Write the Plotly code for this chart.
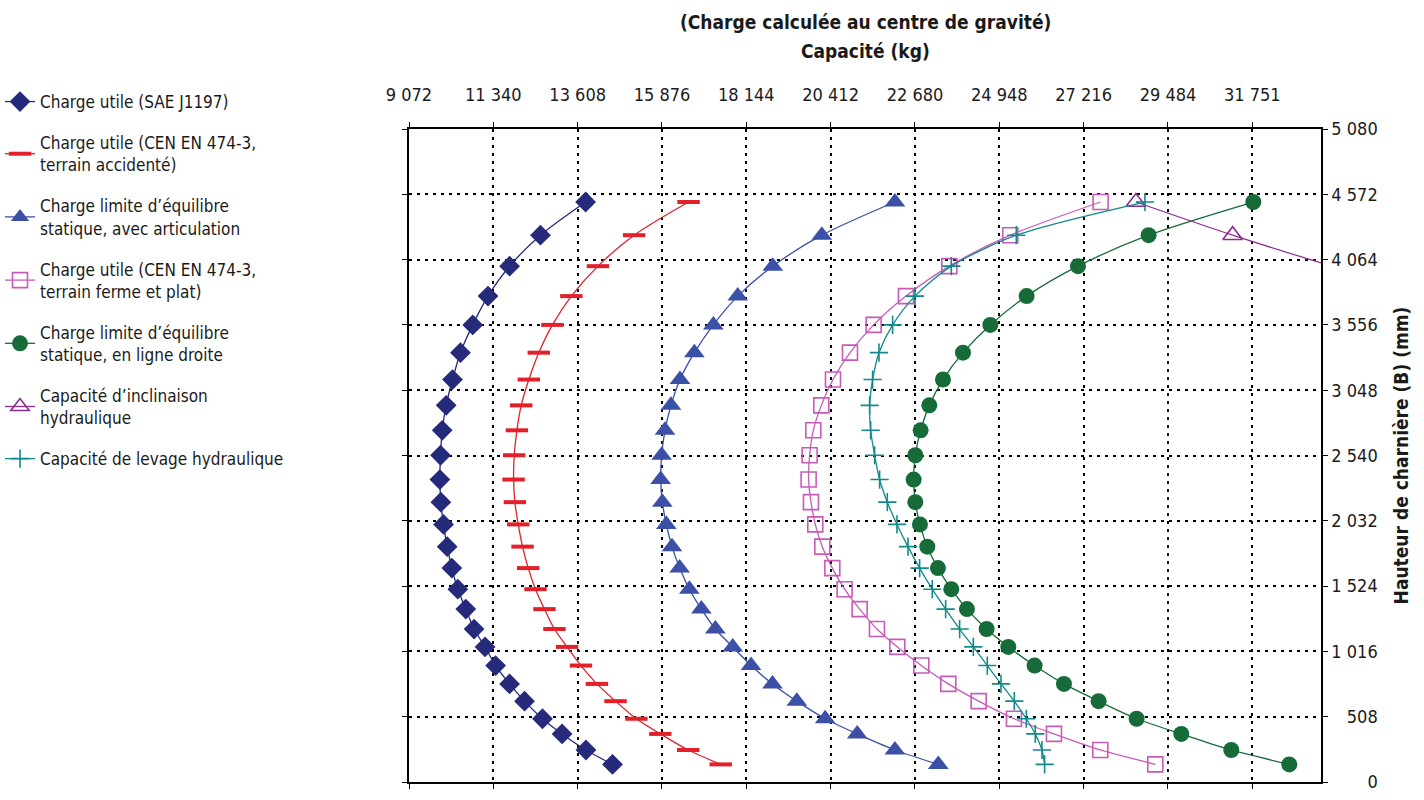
import plotly.graph_objects as go

# Shared hinge heights (mm) for each plotted point, top to bottom
heights = [4512, 4254, 4013, 3780, 3556, 3340, 3131, 2930, 2736, 2542, 2353, 2177, 2004,
           1831, 1664, 1500, 1345, 1190, 1051, 906, 763, 629, 492, 374, 249, 137]

sae_j1197 = [13822, 12608, 11777, 11197, 10786, 10456, 10242, 10072, 9965, 9920, 9902, 9929, 10001,
             10099, 10224, 10385, 10599, 10822, 11117, 11402, 11777, 12179, 12662, 13188, 13831, 14545]
cen_accidente = [16590, 15126, 14153, 13438, 12929, 12563, 12295, 12090, 11974, 11902, 11885, 11920, 12010,
                 12126, 12278, 12474, 12715, 12983, 13322, 13697, 14126, 14626, 15188, 15831, 16581, 17456]
equilibre_artic = [22141, 20175, 18856, 17913, 17258, 16747, 16361, 16118, 15957, 15867, 15840, 15885, 15993,
                   16145, 16352, 16612, 16935, 17312, 17779, 18272, 18847, 19502, 20265, 21127, 22141, 23307]
cen_ferme = [27673, 25244, 23603, 22438, 21568, 20932, 20475, 20161, 19946, 19847, 19820, 19883, 19999,
             20188, 20457, 20788, 21192, 21658, 22205, 22850, 23576, 24392, 25342, 26418, 27664, 29143]
equilibre_droite = [31779, 28964, 27064, 25683, 24706, 23971, 23433, 23065, 22832, 22689, 22644, 22689, 22814,
                    23012, 23298, 23657, 24078, 24607, 25190, 25898, 26687, 27619, 28641, 29843, 31187, 32747]
inclinaison = [28623, 31223, 33885]
inclinaison_h = [4512, 4254, 4013]
levage = [28865, 25405, 23657, 22680, 22079, 21712, 21541, 21461, 21488, 21595, 21729, 21936, 22196,
          22492, 22805, 23146, 23505, 23881, 24249, 24625, 24993, 25351, 25674, 25916, 26095, 26167]

x_ticks = [9072, 11340, 13608, 15876, 18144, 20412, 22680, 24948, 27216, 29484, 31751]
x_labels = ["9 072", "11 340", "13 608", "15 876", "18 144", "20 412", "22 680", "24 948", "27 216", "29 484", "31 751"]
y_ticks = [0, 508, 1016, 1524, 2032, 2540, 3048, 3556, 4064, 4572, 5080]
y_labels = ["0", "508", "1 016", "1 524", "2 032", "2 540", "3 048", "3 556", "4 064", "4 572", "5 080"]

FONT = "Liberation Sans Narrow, DejaVu Sans Condensed, Arial Narrow, sans-serif"
FIG = "\u2007"
NB = "\u00a0"


def pad(lbl):
    # right-align labels of the right-hand axis
    n_digits = sum(c.isdigit() for c in lbl)
    has_space = " " in lbl
    p = FIG * (4 - n_digits) + ("" if has_space else NB)
    return p + lbl.replace(" ", NB)


fig = go.Figure()

series = [
    ("Charge utile (SAE J1197)", sae_j1197, heights, "#262a7a",
     dict(symbol="diamond", size=16, color="#262a7a")),
    ("Charge utile (CEN EN 474-3,<br>terrain accidenté)", cen_accidente, heights, "#e3202a",
     dict(symbol="line-ew-open", size=16, line=dict(color="#e3202a", width=4))),
    ("Charge limite d’équilibre<br>statique, avec articulation", equilibre_artic, heights, "#3b50a6",
     dict(symbol="triangle-up", size=18, color="#3b50a6")),
    ("Charge utile (CEN EN 474-3,<br>terrain ferme et plat)", cen_ferme, heights, "#c85bb8",
     dict(symbol="square-open", size=15, color="#c85bb8", line=dict(width=1.6))),
    ("Charge limite d’équilibre<br>statique, en ligne droite", equilibre_droite, heights, "#166b38",
     dict(symbol="circle", size=16, color="#166b38")),
    ("Capacité d’inclinaison<br>hydraulique", inclinaison, inclinaison_h, "#8b2d90",
     dict(symbol="triangle-up-open", size=17, color="#8b2d90", line=dict(width=1.6))),
    ("Capacité de levage hydraulique", levage, heights, "#12898a",
     dict(symbol="cross-thin-open", size=13, color="#12898a", line=dict(width=1.6, color="#12898a"))),
]

for i, (name, xs, ys, col, mk) in enumerate(series):
    fig.add_trace(go.Scatter(
        x=xs, y=ys, name=name, mode="lines+markers",
        line=dict(color=col, width=1.3, shape="spline", smoothing=0.8),
        marker=mk, legendgroup=f"g{i}",
    ))

fig.update_layout(
    width=1424, height=800,
    margin=dict(l=409, r=103, t=129, b=8),
    paper_bgcolor="white", plot_bgcolor="white",
    font=dict(family=FONT, size=17, color="#1a1a1a"),
    legend=dict(
        xref="container", yref="container", x=0, y=0.895,
        xanchor="left", yanchor="top",
        font=dict(family=FONT, size=17, color="#1a1a1a"),
        tracegroupgap=16, itemwidth=30, bgcolor="rgba(0,0,0,0)",
    ),
    xaxis=dict(
        side="top", range=[9072, 33600], tickvals=x_ticks, ticktext=x_labels,
        showgrid=True, gridcolor="black", gridwidth=2, griddash="3px,5px",
        showline=True, linecolor="black", linewidth=1.5, mirror="ticks",
        ticks="outside", ticklen=5, tickcolor="black", tickwidth=1.2,
        ticklabelstandoff=14, zeroline=False,
        tickfont=dict(family=FONT, size=18, color="#1a1a1a"),
    ),
    yaxis=dict(
        side="right", range=[0, 5080], tickvals=y_ticks, ticktext=[pad(t) for t in y_labels],
        showgrid=True, gridcolor="black", gridwidth=2, griddash="3px,5px",
        showline=True, linecolor="black", linewidth=1.5, mirror="ticks",
        ticks="outside", ticklen=5, tickcolor="black", tickwidth=1.2,
        zeroline=False,
        tickfont=dict(family=FONT, size=18, color="#1a1a1a"),
        title=dict(text="<b>Hauteur de charnière (B) (mm)</b>", standoff=18,
                   font=dict(family=FONT, size=19, color="#1a1a1a")),
    ),
)

fig.add_annotation(text="<b>(Charge calculée au centre de gravité)</b>", xref="paper", yref="paper",
                   x=0.5, y=1.1644, showarrow=False, yanchor="middle",
                   font=dict(family=FONT, size=19, color="#1a1a1a"))
fig.add_annotation(text="<b>Capacité (kg)</b>", xref="paper", yref="paper",
                   x=0.5, y=1.1192, showarrow=False, yanchor="middle",
                   font=dict(family=FONT, size=19, color="#1a1a1a"))

fig.write_html("out.html")
